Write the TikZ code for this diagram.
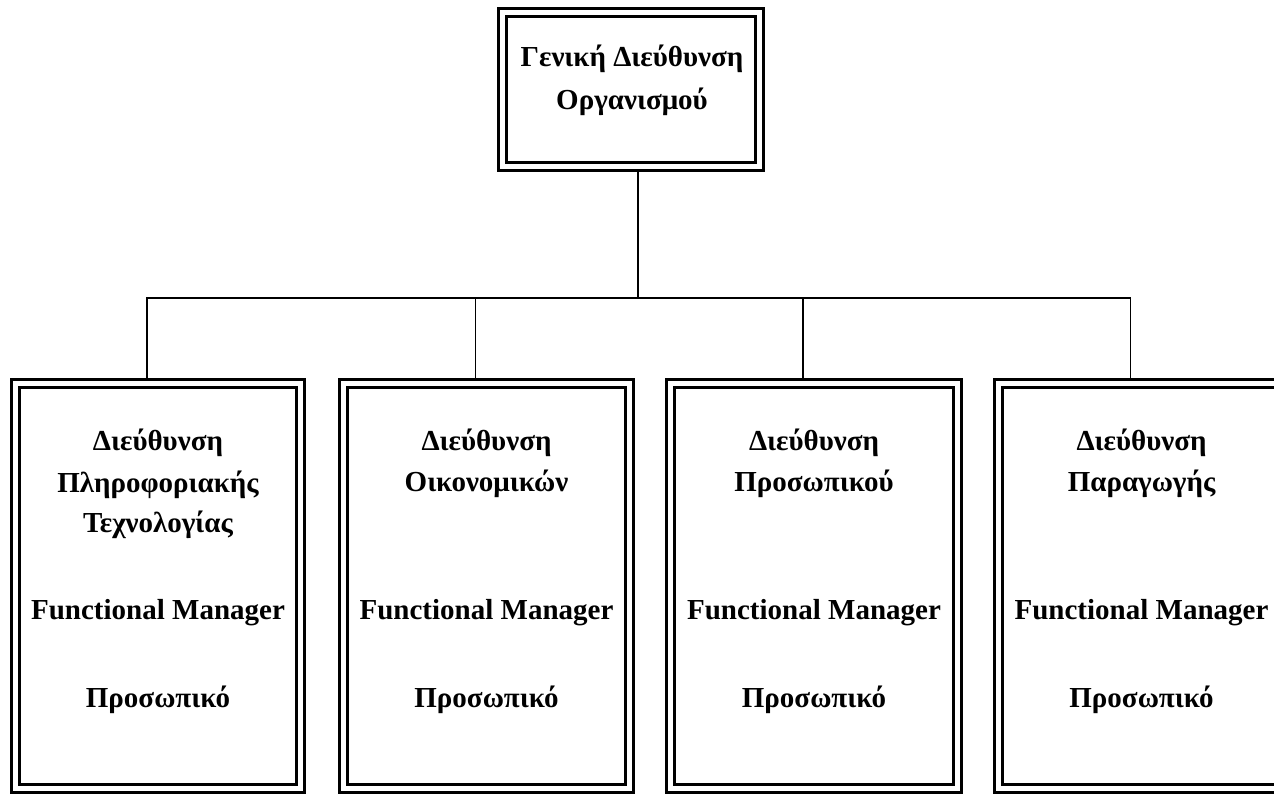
\documentclass[tikz,border=0pt]{standalone}
\usepackage{fontspec}
\setmainfont{Liberation Serif}
\begin{document}
\begin{tikzpicture}[x=1pt,y=-1pt,
  frame/.style={draw, double, line width=3.2pt, double distance=4.5pt,
    inner sep=0pt, outer sep=5.45pt, minimum width=#1, minimum height=405pt},
  topframe/.style={draw, double, line width=3.2pt, double distance=4.5pt,
    inner sep=0pt, outer sep=5.45pt, minimum width=257pt, minimum height=154pt},
  label/.style={anchor=base, inner sep=0pt, font=\fontsize{29}{34}\selectfont\bfseries},
  link/.style={draw, line width=1.8pt}]
\useasboundingbox (0,0) rectangle (1274,795);
\clip (0,0) rectangle (1274,795);
\fill[white] (0,0) rectangle (1274,795);

% head office
\node[topframe] (top) at (631,89.5) {};
\node[label] (t0a) at (632,66) {Γενική Διεύθυνση};
\node[label] (t0b) at (632,109) {Οργανισμού};

% departments
\node[frame=285pt] (b1) at (158,586) {};
\node[frame=286pt] (b2) at (486.5,586) {};
\node[frame=287pt] (b3) at (814,586) {};
\node[frame=286pt] (b4) at (1141.5,586) {};

% connectors
\coordinate (bus) at (638,298);
\draw[link] (top.south -| bus) -- (bus);
\draw[link] ([xshift=-11pt]b1.north) |- (bus);
\draw[link] ([xshift=-11pt]b2.north) |- (bus);
\draw[link] ([xshift=-11pt]b3.north) |- (bus);
\draw[link] ([xshift=-11pt]b4.north) |- (bus);

% department texts
\node[label] (t1a) at (158,450) {Διεύθυνση};
\node[label] (t1b) at (158,492) {Πληροφοριακής};
\node[label] (t1c) at (158,532) {Τεχνολογίας};
\node[label] (t1d) at (158,619) {Functional Manager};
\node[label] (t1e) at (158,707) {Προσωπικό};

\node[label] (t2a) at (486.5,450) {Διεύθυνση};
\node[label] (t2b) at (486.5,491) {Οικονομικών};
\node[label] (t2d) at (486.5,619) {Functional Manager};
\node[label] (t2e) at (486.5,707) {Προσωπικό};

\node[label] (t3a) at (814,450) {Διεύθυνση};
\node[label] (t3b) at (814,491) {Προσωπικού};
\node[label] (t3d) at (814,619) {Functional Manager};
\node[label] (t3e) at (814,707) {Προσωπικό};

\node[label] (t4a) at (1141.5,450) {Διεύθυνση};
\node[label] (t4b) at (1141.5,491) {Παραγωγής};
\node[label] (t4d) at (1141.5,619) {Functional Manager};
\node[label] (t4e) at (1141.5,707) {Προσωπικό};
\end{tikzpicture}
\end{document}
